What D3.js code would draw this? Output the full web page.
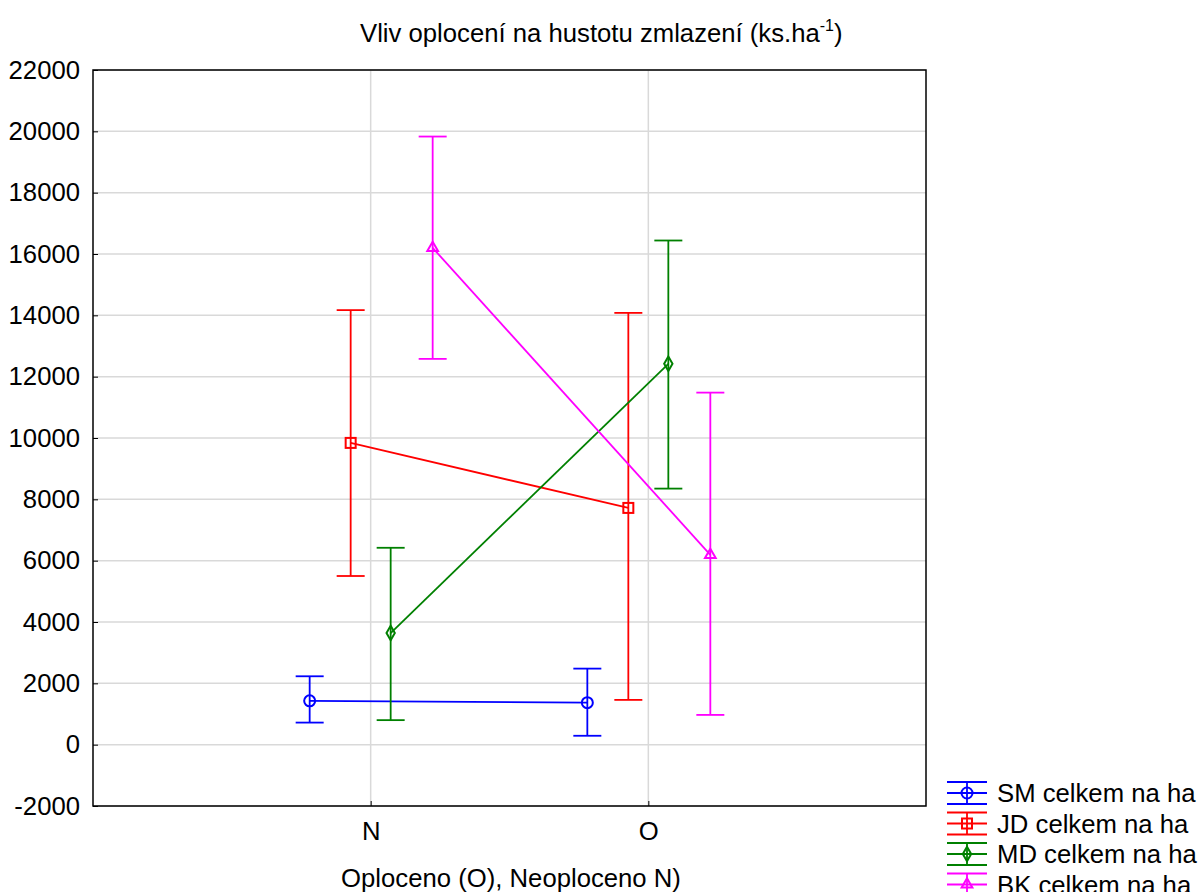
<!DOCTYPE html>
<html>
<head>
<meta charset="utf-8">
<script src="https://cdn.jsdelivr.net/npm/d3@7"></script>
<style>
  body { margin: 0; background: #fff; }
  svg { font-family: 'Liberation Sans', Arial, sans-serif; }
</style>
</head>
<body>
<svg width="1200" height="892"></svg>
<script>
// categories on x axis
const categories = ['N', 'O']
// series names (legend)
const seriesNames = ['SM celkem na ha', 'JD celkem na ha', 'MD celkem na ha', 'BK celkem na ha']
// means per series, N then O
const meanSM = [1430, 1370]
const meanJD = [9840, 7720]
const meanMD = [3640, 12420]
const meanBK = [16200, 6190]
// upper error bounds
const upSM = [2230, 2480]
const upJD = [14170, 14080]
const upMD = [6420, 16440]
const upBK = [19830, 11480]
// lower error bounds
const loSM = [720, 290]
const loJD = [5500, 1460]
const loMD = [800, 8350]
const loBK = [12580, 970]
const yTicks = [-2000, 0, 2000, 4000, 6000, 8000, 10000, 12000, 14000, 16000, 18000, 20000, 22000]

const colors = ['#0000ff', '#ff0000', '#008000', '#ff00ff']
const shapes = ['circle', 'square', 'diamond', 'triangle']
const offsets = [-61, -20, 20, 62]
const fontSize = 25.7

let series = seriesNames.map((name, i) => ({
  name: name,
  mean: [meanSM, meanJD, meanMD, meanBK][i],
  up: [upSM, upJD, upMD, upBK][i],
  lo: [loSM, loJD, loMD, loBK][i]
}))

let svg = d3.select('svg')
let margin = {top: 70, left: 93}
let width = 833
let height = 736
let g = svg.append('g')
  .attr('transform', 'translate(' + margin.left + ',' + margin.top + ')')

// x: categories sit at 1/3 and 2/3 of the frame
let x = d3.scalePoint()
  .domain(['', ...categories, ' '])
  .range([0, width])

let y = d3.scaleLinear()
  .domain([-2000, 22000])
  .range([height, 0])

// gridlines
g.append('g')
  .selectAll('line')
  .data(yTicks)
  .join('line')
    .attr('x1', 0)
    .attr('x2', width)
    .attr('y1', d => y(d))
    .attr('y2', d => y(d))
    .attr('stroke', '#d9d9d9')
    .attr('stroke-width', 1.5)

g.append('g')
  .selectAll('line')
  .data(categories)
  .join('line')
    .attr('x1', d => x(d))
    .attr('x2', d => x(d))
    .attr('y1', 0)
    .attr('y2', height)
    .attr('stroke', '#d9d9d9')
    .attr('stroke-width', 1.5)

// y axis
let yAxis = g.append('g')
  .call(d3.axisLeft(y)
    .tickValues(yTicks)
    .tickSize(-5)
    .tickPadding(13)
    .tickFormat(d => String(d)))
yAxis.select('.domain').remove()
yAxis.selectAll('text')
  .attr('font-size', fontSize)
  .attr('font-family', "'Liberation Sans', Arial, sans-serif")
  .attr('fill', '#000')

// x axis
let xAxis = g.append('g')
  .attr('transform', 'translate(0,' + height + ')')
  .call(d3.axisBottom(x)
    .tickValues(categories)
    .tickSize(-5)
    .tickPadding(16))
xAxis.select('.domain').remove()
xAxis.selectAll('text')
  .attr('font-size', fontSize)
  .attr('font-family', "'Liberation Sans', Arial, sans-serif")
  .attr('fill', '#000')

// frame
g.append('rect')
  .attr('width', width)
  .attr('height', height)
  .attr('fill', 'none')
  .attr('stroke', '#000')
  .attr('stroke-width', 1.5)

function marker (sel, shape, color, size) {
  if (shape === 'circle') {
    sel.append('circle').attr('r', size * 0.55)
  } else if (shape === 'square') {
    sel.append('rect').attr('x', -size * 0.5).attr('y', -size * 0.5)
      .attr('width', size).attr('height', size)
  } else if (shape === 'diamond') {
    sel.append('path').attr('d', d3.symbol(d3.symbolDiamond, size * size * 0.6)())
  } else {
    sel.append('path').attr('d', d3.symbol(d3.symbolTriangle, size * size * 0.5)())
  }
  sel.selectAll('*')
    .attr('fill', 'none')
    .attr('stroke', color)
    .attr('stroke-width', 2)
}

let capW = 14
series.forEach((s, i) => {
  let c = colors[i]
  let px = (j) => x(categories[j]) + offsets[i]
  let sg = g.append('g')

  // connecting line
  sg.append('path')
    .datum(s.mean)
    .attr('fill', 'none')
    .attr('stroke', c)
    .attr('stroke-width', 1.8)
    .attr('d', d3.line().x((d, j) => px(j)).y(d => y(d)))

  categories.forEach((cat, j) => {
    // whisker
    sg.append('line')
      .attr('x1', px(j)).attr('x2', px(j))
      .attr('y1', y(s.up[j])).attr('y2', y(s.lo[j]))
      .attr('stroke', c).attr('stroke-width', 1.8)
    ;[s.up[j], s.lo[j]].forEach(v => {
      sg.append('line')
        .attr('x1', px(j) - capW).attr('x2', px(j) + capW)
        .attr('y1', y(v)).attr('y2', y(v))
        .attr('stroke', c).attr('stroke-width', 1.8)
    })
    let m = sg.append('g')
      .attr('transform', 'translate(' + px(j) + ',' + y(s.mean[j]) + ')')
    marker(m, shapes[i], c, 10)
  })
})

// title
let title = svg.append('text')
  .attr('x', 360)
  .attr('y', 42)
  .attr('font-size', fontSize)
  .attr('fill', '#000')
title.append('tspan').text('Vliv oplocení na hustotu zmlazení (ks.ha')
title.append('tspan').attr('dy', -11).attr('font-size', 16).text('-1')
title.append('tspan').attr('dy', 11).text(')')

// x axis title
svg.append('text')
  .attr('x', 511)
  .attr('y', 887)
  .attr('text-anchor', 'middle')
  .attr('font-size', fontSize)
  .attr('fill', '#000')
  .text('Oploceno (O), Neoploceno N)')

// legend
let legend = svg.append('g')
legend.selectAll('g')
  .data(series)
  .join('g')
    .attr('transform', (d, i) => 'translate(967,' + (793 + i * 30.5) + ')')
    .each(function (d, i) {
      let lg = d3.select(this)
      let c = colors[i]
      ;[-11, 0, 11].forEach(dy => {
        lg.append('line')
          .attr('x1', -20).attr('x2', 20)
          .attr('y1', dy).attr('y2', dy)
          .attr('stroke', c).attr('stroke-width', 1.8)
      })
      lg.append('line')
        .attr('x1', 0).attr('x2', 0)
        .attr('y1', -11).attr('y2', 11)
        .attr('stroke', c).attr('stroke-width', 1.8)
      let m = lg.append('g')
      marker(m, shapes[i], c, 10)
      lg.append('text')
        .attr('x', 30)
        .attr('y', 9)
        .attr('font-size', fontSize)
        .attr('fill', '#000')
        .text(d.name)
    })
</script>
</body>
</html>
